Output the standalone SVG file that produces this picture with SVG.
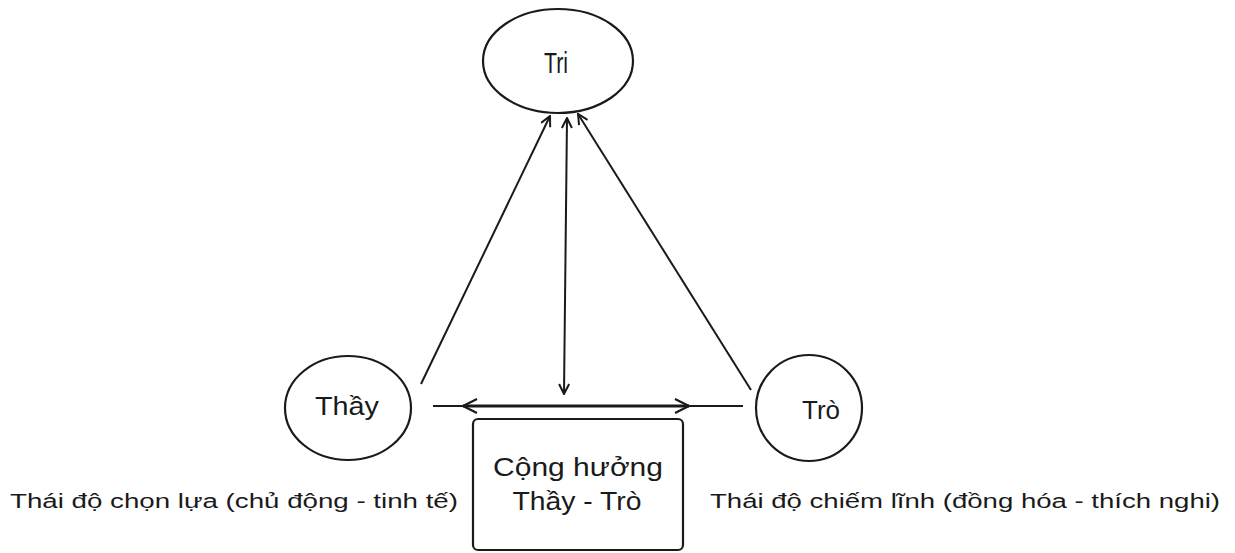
<svg xmlns="http://www.w3.org/2000/svg" width="1235" height="553" viewBox="0 0 1235 553">
<style>
.node{fill:#fff;stroke:#1a1a1a;stroke-width:2.2}
.lbl{font-family:"Liberation Sans",Arial,sans-serif;fill:#1a1a1a;text-anchor:middle}
.cap{font-family:"Liberation Sans",Arial,sans-serif;fill:#1a1a1a;font-size:20px}
.edge{stroke:#1a1a1a;stroke-width:2;fill:none}
</style>
<defs>
<marker id="arr" viewBox="0 0 12 12" refX="11" refY="6" markerWidth="12" markerHeight="12" markerUnits="userSpaceOnUse" orient="auto-start-reverse">
<path d="M1,1 L11,6 L1,11" fill="none" stroke="#1a1a1a" stroke-width="2"/>
</marker>
<marker id="arr2" viewBox="0 0 16 16" refX="15" refY="8" markerWidth="16" markerHeight="16" markerUnits="userSpaceOnUse" orient="auto-start-reverse">
<path d="M1,1 L15,8 L1,15" fill="none" stroke="#1a1a1a" stroke-width="2.2"/>
</marker>
</defs>
<g id="connectors">
<line class="edge" x1="421" y1="384" x2="550" y2="116" marker-end="url(#arr)"/>
<line class="edge" x1="751" y1="390" x2="578" y2="114" marker-end="url(#arr)"/>
<line class="edge" x1="567" y1="118" x2="564" y2="394" marker-start="url(#arr)" marker-end="url(#arr)"/>
<line class="edge" x1="433" y1="406" x2="743" y2="406"/>
<line x1="463" y1="406" x2="689" y2="406" stroke="#1a1a1a" stroke-width="3.2" marker-start="url(#arr2)" marker-end="url(#arr2)"/>
</g>
<g id="tri">
<ellipse class="node" cx="558" cy="61" rx="75" ry="52"/>
<text class="lbl" x="556" y="73" font-size="29" textLength="24" lengthAdjust="spacingAndGlyphs">Tri</text>
</g>
<g id="thay">
<ellipse class="node" cx="348" cy="408" rx="63" ry="52"/>
<text class="lbl" x="347" y="415" font-size="25" textLength="64" lengthAdjust="spacingAndGlyphs">Thầy</text>
</g>
<g id="tro">
<ellipse class="node" cx="809" cy="408" rx="53" ry="53"/>
<text class="lbl" x="821" y="419" font-size="26" textLength="38" lengthAdjust="spacingAndGlyphs">Trò</text>
</g>
<g id="conghuong">
<rect class="node" x="473" y="419" width="210" height="131" rx="5"/>
<text class="lbl" x="578" y="476" font-size="26" textLength="170" lengthAdjust="spacingAndGlyphs">Cộng hưởng</text>
<text class="lbl" x="577" y="510" font-size="26" textLength="129" lengthAdjust="spacingAndGlyphs">Thầy - Trò</text>
</g>
<g id="captions">
<text class="cap" x="10" y="508" textLength="448" lengthAdjust="spacingAndGlyphs">Thái độ chọn lựa (chủ động - tinh tế)</text>
<text class="cap" x="710" y="508" textLength="510" lengthAdjust="spacingAndGlyphs">Thái độ chiếm lĩnh (đồng hóa - thích nghi)</text>
</g>
</svg>
